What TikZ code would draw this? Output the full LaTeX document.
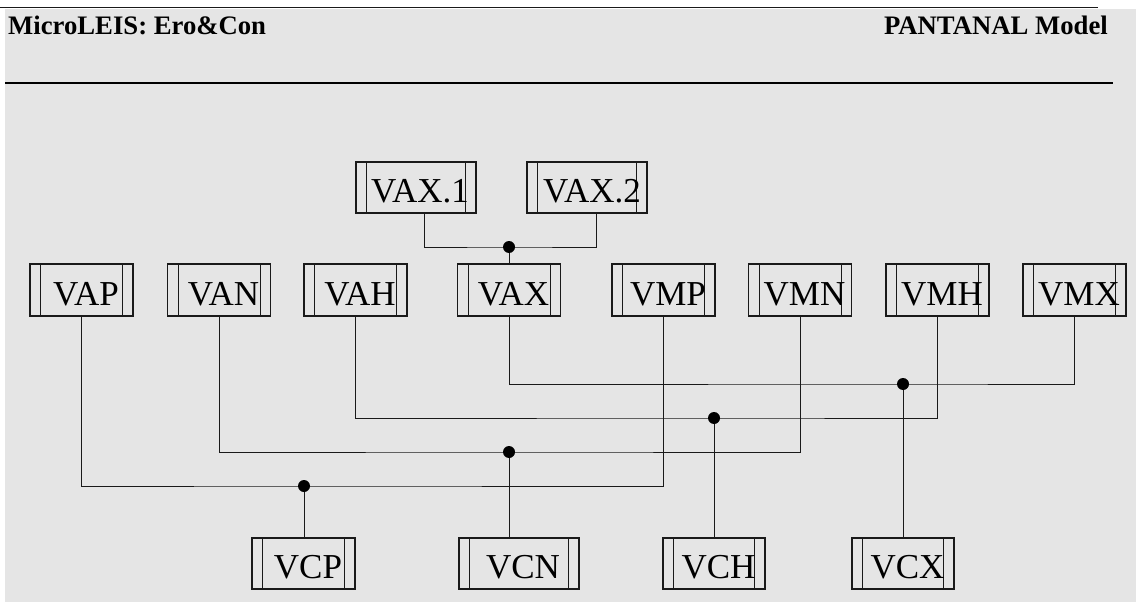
\documentclass[tikz,border=0pt]{standalone}
\usepackage{fontspec}
\setmainfont{Liberation Serif}
\definecolor{bgc}{HTML}{E5E5E5}
\definecolor{linec}{HTML}{1A1A1A}
\begin{document}
\begin{tikzpicture}[x=1pt,y=-1pt,
  vbox/.style={draw=linec, line width=1.1pt, minimum width=103pt, minimum height=52pt,
    inner sep=0pt, font=\fontsize{35}{38}\selectfont, text height=30pt, text depth=0pt,
    path picture={
      \draw[linec, line width=1pt] ([xshift=10.5pt]path picture bounding box.north west) -- ([xshift=10.5pt]path picture bounding box.south west);
      \draw[linec, line width=1pt] ([xshift=-10.5pt]path picture bounding box.north east) -- ([xshift=-10.5pt]path picture bounding box.south east);
    }},
  wide/.style={minimum width=120pt},
  conn/.style={draw=linec, line width=1pt},
  jdot/.style={fill=black},
  hdr/.style={font=\fontsize{26.7}{30}\selectfont\bfseries, inner sep=0pt, anchor=base west}
]
\useasboundingbox (0,0) rectangle (1136,602);
\fill[bgc] (5,9) rectangle (1136,602);
\draw[linec, line width=1pt] (0,8) -- (1098,8);
\draw[black, line width=2.5pt] (5,83) -- (1113,83);
\node[hdr] (title) at (8,35) {MicroLEIS: Ero\&Con};
\node[hdr, anchor=base east] (model) at (1108,35) {PANTANAL Model};

% top row
\node[vbox, wide, minimum height=51pt] (VAX1) at (416,187.5) {\hspace*{8pt}VAX.1};
\node[vbox, wide, minimum height=51pt] (VAX2) at (587,187.5) {\hspace*{10pt}VAX.2};
% main row
\node[vbox] (VAP) at (81.5,290) {\hspace*{9pt}VAP};
\node[vbox] (VAN) at (219,290) {\hspace*{9pt}VAN};
\node[vbox] (VAH) at (355.5,290) {\hspace*{9pt}VAH};
\node[vbox] (VAX) at (509,290) {\hspace*{9pt}VAX};
\node[vbox] (VMP) at (663.5,290) {\hspace*{9pt}VMP};
\node[vbox] (VMN) at (800,290) {\hspace*{9pt}VMN};
\node[vbox] (VMH) at (937.5,290) {\hspace*{9pt}VMH};
\node[vbox] (VMX) at (1074.5,290) {\hspace*{9pt}VMX};
% bottom row
\node[vbox, minimum height=51pt] (VCP) at (303.5,563.5) {\hspace*{9pt}VCP};
\node[vbox, wide, minimum height=51pt] (VCN) at (519,563.5) {\hspace*{8pt}VCN};
\node[vbox, minimum width=102pt, minimum height=51pt] (VCH) at (714,563.5) {\hspace*{9pt}VCH};
\node[vbox, minimum width=102pt, minimum height=51pt] (VCX) at (903,563.5) {\hspace*{9pt}VCX};

% junctions
\coordinate (jT) at (509,247);
\coordinate (jX) at (903,384);
\coordinate (jH) at (714,418);
\coordinate (jN) at (509,452);
\coordinate (jP) at (304,486);

\draw[conn] ([xshift=8pt]VAX1.south) |- (jT) -| ([xshift=9pt]VAX2.south);
\draw[conn] (jT) -- (VAX.north);

\draw[conn] (VAX.south) |- (jX) -| (VMX.south);
\draw[conn] (jX) -- (jX |- VCX.north);

\draw[conn] (VAH.south) |- (jH) -| (VMH.south);
\draw[conn] (jH) -- (jH |- VCH.north);

\draw[conn] (VAN.south) |- (jN) -| (VMN.south);
\draw[conn] (jN) -- (jN |- VCN.north);

\draw[conn] (VAP.south) |- (jP) -| (VMP.south);
\draw[conn] (jP) -- (jP |- VCP.north);

\foreach \j in {jT,jX,jH,jN,jP} \fill[jdot] (\j) circle[radius=6pt];
\end{tikzpicture}
\end{document}
